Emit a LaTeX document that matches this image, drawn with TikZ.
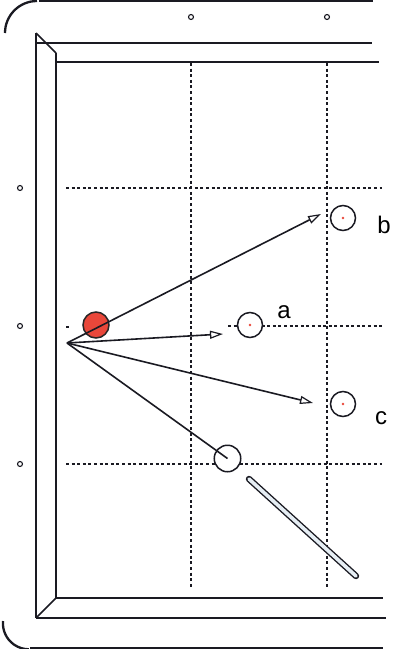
\documentclass[tikz,border=0pt]{standalone}
\usepackage{fontspec}
\setmainfont{Liberation Sans}
\usetikzlibrary{arrows.meta}
\definecolor{ballred}{HTML}{E9473A}
\definecolor{cuefill}{HTML}{E6EEF4}
\definecolor{linedark}{HTML}{1A1A22}
\tikzset{
  frame/.style={line width=1.7pt, draw=linedark},
  guide/.style={line width=1.2pt, dash pattern=on 3pt off 2.6pt, draw=linedark},
  diamond/.style={circle, draw=linedark, line width=1.1pt, minimum size=5pt, inner sep=0pt},
  ball/.style={circle, draw=linedark, line width=1.5pt, minimum size=25pt, inner sep=0pt, fill=white},
  shot/.style={line width=1.6pt, draw=linedark, -{Triangle[open, length=13pt, width=8pt, line width=1.2pt]}},
  lbl/.style={font=\fontsize{24}{26}\selectfont, text=black, inner sep=0pt},
}
\begin{document}
\begin{tikzpicture}[x=1pt, y=-1pt]
\useasboundingbox (0,0) rectangle (393,649);
% outer table frame
\draw[frame, line width=2.3pt] (5,33) arc[start angle=180, end angle=270, radius=32];
\draw[frame] (39,1) -- (373,1);
\draw[frame, line width=2.3pt] (3,621) arc[start angle=185, end angle=90, radius=26];
\draw[frame] (30,648) -- (383,648);
% cushion rails
\draw[frame] (36,33) -- (36,618);
\draw[frame] (56,53) -- (56,598);
\draw[frame] (36,33) -- (56,53);
\draw[frame] (36,618) -- (56,598);
\draw[frame] (36,43) -- (372,43);
\draw[frame] (56,62) -- (379,62);
\draw[frame] (56,598) -- (383,598);
\draw[frame] (36,618) -- (386,618);
% diamonds
\node[diamond] (d1) at (191,17) {};
\node[diamond] (d2) at (327,17) {};
\node[diamond] (d3) at (20,188) {};
\node[diamond] (d4) at (20,326) {};
\node[diamond] (d5) at (20,464) {};
% guide lines
\draw[guide] (191,63) -- (191,587);
\draw[guide] (327,63) -- (327,587);
\draw[guide] (66,188) -- (382,188);
\draw[guide] (228,326) -- (382,326);
\draw[guide] (66,327) -- (71,327);
\draw[guide] (66,464) -- (382,464);
% cue stick
\draw[line width=6.4pt, linedark, line cap=round] (249,479) -- (356,576);
\draw[line width=3.6pt, cuefill, line cap=round] (249,479) -- (356,576);
% balls
\node[ball] (ba) at (250,325) {};
\node[ball] (bb) at (343,218) {};
\node[ball] (bc) at (343,404) {};
\node[ball, minimum size=26.5pt] (cue) at (227.5,458.5) {};
\fill[ballred] (ba.center) circle (1.3pt);
\fill[ballred] (bb.center) circle (1.3pt);
\fill[ballred] (bc.center) circle (1.3pt);
\node[ball, fill=ballred, minimum size=26pt, draw=black!85] (red) at (96,325) {};
% shots
\coordinate (p) at (67,343);
\coordinate (ta) at (223,334);
\coordinate (tb) at (321,214);
\coordinate (tc) at (313,403);
\draw[shot] (p) -- (ta);
\draw[shot] (p) -- (tb);
\draw[shot] (p) -- (tc);
\draw[line width=1.6pt, linedark] (p) -- (cue.center);
% labels
\node[lbl] (la) at (284,312) {a};
\node[lbl] (lb) at (384,225) {b};
\node[lbl] (lc) at (381,418) {c};
\end{tikzpicture}
\end{document}
